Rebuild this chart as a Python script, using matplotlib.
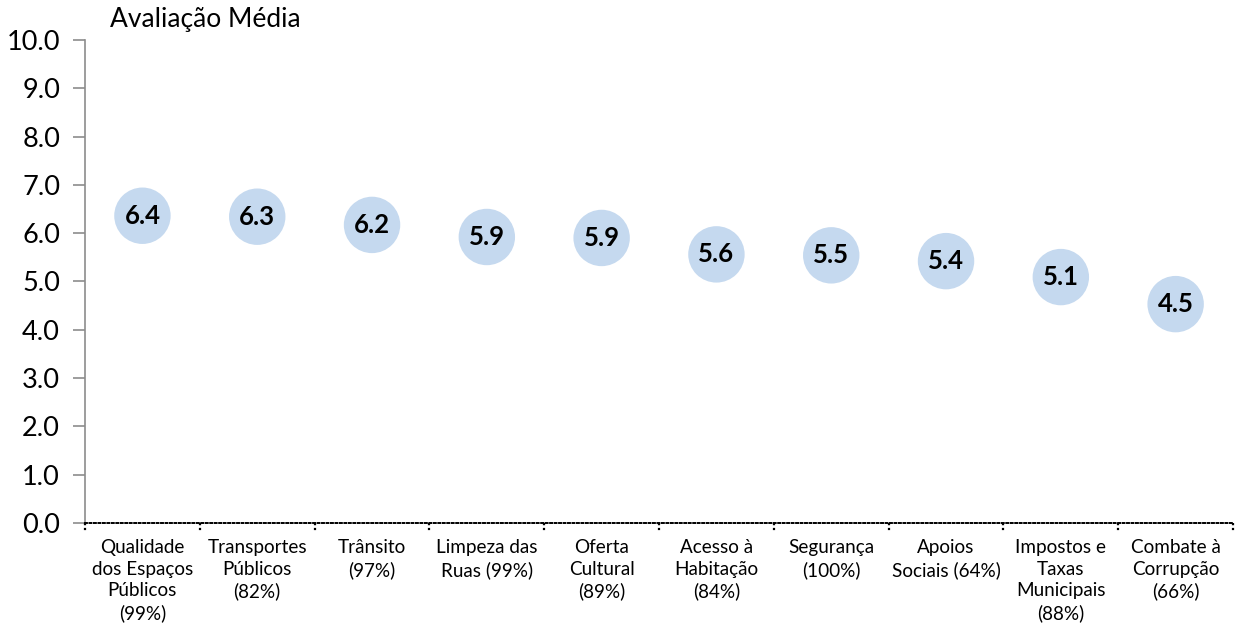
import matplotlib
matplotlib.use("Agg")
import matplotlib.pyplot as plt
import numpy as np

plt.rcParams['font.family'] = ['Lato', 'DejaVu Sans']

# dados
categorias = ["Qualidade\ndos Espaços\nPúblicos\n(99%)", "Transportes\nPúblicos\n(82%)",
              "Trânsito\n(97%)", "Limpeza das\nRuas (99%)", "Oferta\nCultural\n(89%)",
              "Acesso à\nHabitação\n(84%)", "Segurança\n(100%)", "Apoios\nSociais (64%)",
              "Impostos e\nTaxas\nMunicipais\n(88%)", "Combate à\nCorrupção\n(66%)"]
medias = [6.36, 6.34, 6.17, 5.92, 5.90, 5.56, 5.54, 5.42, 5.09, 4.53]
yticks = [0, 1, 2, 3, 4, 5, 6, 7, 8, 9, 10]

fig = plt.figure(figsize=(12.36, 6.24), dpi=100)
ax = fig.add_axes([0.0688, 0.162, 0.9288, 0.774])

x = np.arange(len(categorias))
ax.scatter(x, medias, s=1650, color='#c5d9ef', edgecolors='none', zorder=2)
for xi, v in zip(x, medias):
    ax.text(xi, v, "%.1f" % v, ha='center', va='center', fontsize=18.5,
            fontweight='bold', color='black', zorder=3)

ax.set_xlim(-0.5, len(categorias) - 0.5)
ax.set_ylim(0, 10)
ax.set_yticks(yticks)
ax.set_yticklabels(["%.1f" % t for t in yticks], fontsize=19.5)
ax.tick_params(axis='y', length=9, width=1.2, color='#8c8c8c', pad=9)

ax.set_xticks(x)
ax.set_xticklabels(categorias, fontsize=13.6, linespacing=1.33, va='top')
ax.tick_params(axis='x', which='major', length=0, pad=11.5)

# marcas pontilhadas nas divisões
trans = ax.get_xaxis_transform()
for b in np.arange(-0.5, len(categorias)):
    ax.plot([b, b], [0, -0.018], transform=trans, color='black', lw=1.6,
            ls=(0, (1, 1.2)), clip_on=False)

ax.spines['top'].set_visible(False)
ax.spines['right'].set_visible(False)
ax.spines['left'].set_color('#8c8c8c')
ax.spines['left'].set_linewidth(1.2)
ax.spines['bottom'].set_linestyle((0, (1, 1.3)))
ax.spines['bottom'].set_linewidth(1.4)
ax.spines['bottom'].set_color('black')

fig.text(0.089, 0.948, "Avaliação Média", fontsize=19, ha='left', va='bottom')

fig.savefig("out.png", dpi=100)
